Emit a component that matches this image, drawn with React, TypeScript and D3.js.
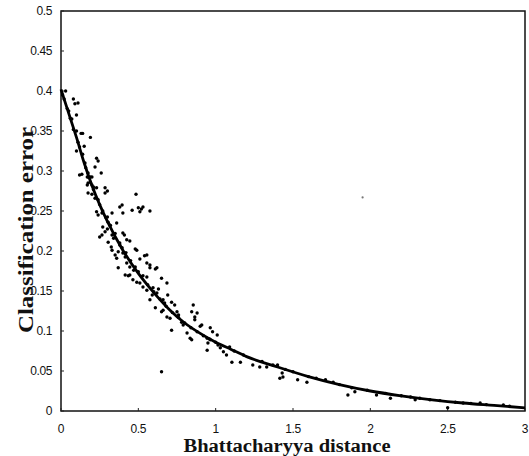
import * as d3 from 'd3'

const WIDTH = 529
const HEIGHT = 456
const MARGIN = { top: 11, right: 4, bottom: 45, left: 61 }

const X_TICKS = [0, 0.5, 1, 1.5, 2, 2.5, 3]
const Y_TICKS = [0, 0.05, 0.1, 0.15, 0.2, 0.25, 0.3, 0.35, 0.4, 0.45, 0.5]

// fitted curve
const CURVE_X = [0, 0.05, 0.1, 0.15, 0.2, 0.25, 0.3, 0.4, 0.5, 0.6, 0.7, 0.8, 0.9, 1.0, 1.1, 1.2, 1.4, 1.6, 1.8, 2.0, 2.2, 2.4, 2.6, 2.8, 3.0]
const CURVE_Y = [0.402, 0.372, 0.342, 0.31, 0.282, 0.258, 0.237, 0.201, 0.172, 0.148, 0.127, 0.11, 0.097, 0.086, 0.077, 0.068, 0.055, 0.043, 0.033, 0.025, 0.019, 0.014, 0.01, 0.007, 0.004]

// samples, split by distance range
const SAMPLES_STEEP: [number, number][] = [
  [0.03, 0.40], [0.08, 0.39], [0.09, 0.384], [0.11, 0.385], [0.05, 0.375], [0.10, 0.37], [0.07, 0.365],
  [0.10, 0.35], [0.13, 0.347], [0.14, 0.347], [0.19, 0.342], [0.11, 0.336], [0.15, 0.331], [0.10, 0.325],
  [0.14, 0.321], [0.23, 0.316], [0.24, 0.3125], [0.155, 0.31], [0.22, 0.305], [0.135, 0.296], [0.26, 0.2975],
  [0.17, 0.2925], [0.19, 0.2925], [0.175, 0.285], [0.20, 0.2825], [0.285, 0.279], [0.12, 0.295], [0.175, 0.2975],
  [0.20, 0.2925], [0.19, 0.286], [0.17, 0.2825], [0.21, 0.28], [0.23, 0.279], [0.285, 0.2725], [0.175, 0.2725],
  [0.20, 0.271], [0.22, 0.266], [0.24, 0.264], [0.23, 0.249], [0.24, 0.245], [0.265, 0.2475], [0.25, 0.2175],
  [0.265, 0.22], [0.27, 0.23], [0.285, 0.224],
  [0.01, 0.395], [0.02, 0.39], [0.04, 0.378], [0.06, 0.366], [0.08, 0.352], [0.12, 0.33], [0.16, 0.304],
  [0.18, 0.292], [0.21, 0.277], [0.25, 0.258], [0.27, 0.25], [0.29, 0.242]
]

const SAMPLES_MID: [number, number][] = [
  [0.30, 0.275], [0.30, 0.2425], [0.33, 0.2475], [0.305, 0.236], [0.315, 0.2325], [0.36, 0.235], [0.30, 0.2275],
  [0.40, 0.2225], [0.41, 0.22], [0.33, 0.22], [0.34, 0.216], [0.425, 0.214], [0.445, 0.2125], [0.305, 0.211],
  [0.325, 0.205], [0.33, 0.201], [0.38, 0.2075], [0.395, 0.204], [0.48, 0.2025], [0.49, 0.201], [0.35, 0.195],
  [0.36, 0.191], [0.40, 0.1975], [0.415, 0.1925], [0.51, 0.19], [0.54, 0.194], [0.37, 0.179], [0.425, 0.185],
  [0.445, 0.18], [0.555, 0.185], [0.575, 0.179], [0.61, 0.1775], [0.47, 0.176], [0.50, 0.174], [0.415, 0.17],
  [0.435, 0.169], [0.53, 0.169], [0.555, 0.1675], [0.65, 0.166], [0.37, 0.199], [0.555, 0.195], [0.575, 0.1825],
  [0.62, 0.179], [0.445, 0.17], [0.465, 0.164], [0.49, 0.161], [0.51, 0.16], [0.685, 0.16], [0.53, 0.155],
  [0.555, 0.151], [0.595, 0.154], [0.62, 0.1475], [0.63, 0.1525], [0.69, 0.145], [0.575, 0.139], [0.59, 0.145],
  [0.66, 0.139], [0.67, 0.135], [0.61, 0.129], [0.65, 0.124], [0.66, 0.126], [0.685, 0.1175], [0.65, 0.049],
  [0.32, 0.232], [0.35, 0.222], [0.38, 0.21], [0.42, 0.198], [0.45, 0.188], [0.48, 0.18], [0.52, 0.168],
  [0.56, 0.158], [0.60, 0.149], [0.64, 0.14], [0.68, 0.131]
]

const SAMPLES_OUTLIERS: [number, number][] = [
  [0.485, 0.271], [0.395, 0.2575], [0.38, 0.255], [0.46, 0.251], [0.50, 0.254], [0.52, 0.2525],
  [0.53, 0.255], [0.51, 0.249], [0.575, 0.25], [0.40, 0.2475]
]

const SAMPLES_LATE: [number, number][] = [
  [0.715, 0.136], [0.735, 0.1325], [0.75, 0.124], [0.76, 0.12], [0.855, 0.1325], [0.845, 0.124], [0.88, 0.1225],
  [0.705, 0.116], [0.78, 0.111], [0.79, 0.1075], [0.715, 0.101], [0.865, 0.114], [0.90, 0.106], [0.815, 0.0975],
  [0.835, 0.091], [0.845, 0.089], [0.965, 0.104], [0.98, 0.099], [1.01, 0.095], [0.945, 0.091], [0.965, 0.089],
  [1.015, 0.0825], [0.865, 0.1175], [0.91, 0.1075], [0.95, 0.085], [0.945, 0.076], [1.03, 0.079], [1.05, 0.074],
  [1.07, 0.07], [1.09, 0.08],
  [0.72, 0.123], [0.76, 0.117], [0.80, 0.11], [0.84, 0.104], [0.88, 0.099], [0.92, 0.094], [0.96, 0.09], [1.0, 0.086]
]

const SAMPLES_TAIL: [number, number][] = [
  [1.105, 0.061], [1.16, 0.061], [1.24, 0.0575], [1.285, 0.055], [1.33, 0.055], [1.37, 0.0575], [1.43, 0.0475],
  [1.415, 0.041], [1.435, 0.0425], [1.50, 0.049], [1.53, 0.039], [1.59, 0.036], [1.71, 0.039], [1.76, 0.036],
  [1.855, 0.02], [1.90, 0.024], [1.98, 0.026], [2.04, 0.02], [2.13, 0.016], [2.26, 0.0175], [2.29, 0.014],
  [2.385, 0.014], [2.50, 0.004], [2.60, 0.01], [2.71, 0.01], [2.86, 0.0075], [1.40, 0.0575],
  [1.12, 0.075], [1.18, 0.07], [1.30, 0.062], [1.45, 0.052], [1.60, 0.043], [1.65, 0.041], [1.80, 0.033],
  [1.88, 0.029], [2.10, 0.022], [2.20, 0.019], [2.32, 0.016], [2.45, 0.013], [2.55, 0.011], [2.65, 0.0095],
  [2.75, 0.008], [2.90, 0.006]
]

// faint speck in the scan
const STRAY: [number, number][] = [[1.95, 0.267]]

export default function App() {
  const innerW = WIDTH - MARGIN.left - MARGIN.right
  const innerH = HEIGHT - MARGIN.top - MARGIN.bottom

  const x = d3.scaleLinear().domain([0, 3]).range([0, innerW])
  const y = d3.scaleLinear().domain([0, 0.5]).range([innerH, 0])

  const curve = CURVE_X.map((v, i) => [v, CURVE_Y[i]] as [number, number])
  const linePath = d3.line<[number, number]>()
    .x(d => x(d[0]))
    .y(d => y(d[1]))
    .curve(d3.curveMonotoneX)(curve)

  const samples = [...SAMPLES_STEEP, ...SAMPLES_MID, ...SAMPLES_OUTLIERS, ...SAMPLES_LATE, ...SAMPLES_TAIL]

  const fmt = (v: number) => String(+v.toFixed(2))

  return (
    <svg width={WIDTH} height={HEIGHT} style={{ position: 'absolute', left: 0, top: 0, background: '#fff' }}>
      <g transform={`translate(${MARGIN.left},${MARGIN.top})`}>
        {/* frame */}
        <rect x={0} y={0} width={innerW} height={innerH} fill="none" stroke="#111" strokeWidth={1.5} />

        {/* ticks */}
        {Y_TICKS.map(t => (
          <line key={`yt${t}`} x1={0} x2={3} y1={y(t)} y2={y(t)} stroke="#222" strokeWidth={1} />
        ))}
        {X_TICKS.map(t => (
          <line key={`xt${t}`} x1={x(t)} x2={x(t)} y1={innerH} y2={innerH - 3} stroke="#222" strokeWidth={1} />
        ))}

        {/* tick labels */}
        {Y_TICKS.map(t => (
          <text key={`yl${t}`} x={-9} y={y(t)} dy="0.35em" textAnchor="end"
            fontFamily="Liberation Sans, Arial, sans-serif" fontSize={12} fill="#111" letterSpacing={-0.4}>
            {fmt(t)}
          </text>
        ))}
        {X_TICKS.map(t => (
          <text key={`xl${t}`} x={x(t)} y={innerH + 22} textAnchor="middle"
            fontFamily="Liberation Sans, Arial, sans-serif" fontSize={12} fill="#111" letterSpacing={-0.4}>
            {fmt(t)}
          </text>
        ))}

        {/* samples */}
        {samples.map((d, i) => (
          <circle key={i} cx={x(d[0])} cy={y(d[1])} r={1.7} fill="#000" />
        ))}
        {STRAY.map((d, i) => (
          <circle key={`s${i}`} cx={x(d[0])} cy={y(d[1])} r={1.1} fill="#777" />
        ))}

        {/* fitted curve */}
        <path d={linePath ?? ''} fill="none" stroke="#000" strokeWidth={2.8} strokeLinejoin="round" />
      </g>

      {/* axis titles */}
      <text x={287} y={452} textAnchor="middle" fontFamily="Liberation Serif, Times New Roman, serif"
        fontWeight="bold" fontSize={18} textLength={207} lengthAdjust="spacingAndGlyphs" fill="#111">
        Bhattacharyya distance
      </text>
      <text transform="translate(33,230) rotate(-90)" textAnchor="middle"
        fontFamily="Liberation Serif, Times New Roman, serif" fontWeight="bold" fontSize={20}
        textLength={206} lengthAdjust="spacingAndGlyphs" fill="#111">
        Classification error
      </text>
    </svg>
  )
}
